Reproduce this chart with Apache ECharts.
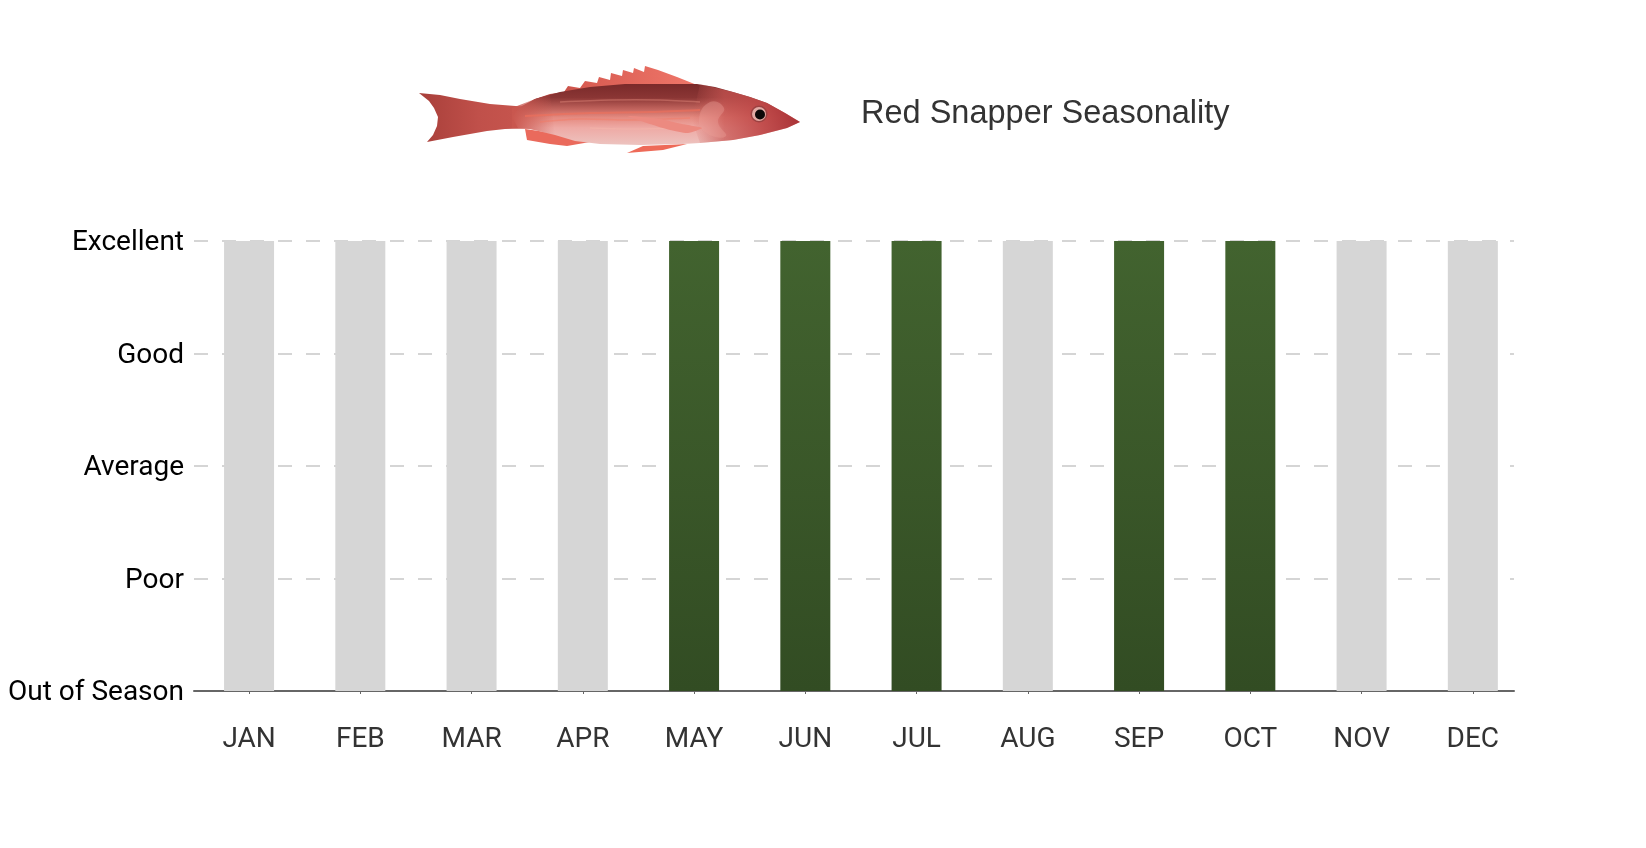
<!DOCTYPE html>
<html>
<head>
    <meta charset="utf-8">
    <title>Red Snapper Seasonality</title>
    <script src="https://cdn.jsdelivr.net/npm/echarts@6/dist/echarts.min.js"></script>
    <style>
        html, body { margin: 0; padding: 0; background: #fff; }
    </style>
</head>
<body>
    <div id="main" style="width: 1646px;height:848px;"></div>
    <script type="text/javascript">
        var months = ['JAN', 'FEB', 'MAR', 'APR', 'MAY', 'JUN', 'JUL', 'AUG', 'SEP', 'OCT', 'NOV', 'DEC'];
        var quality = ['Out of Season', 'Poor', 'Average', 'Good', 'Excellent'];
        var grayValues = [4, 4, 4, 4, 0, 0, 0, 4, 0, 0, 4, 4];
        var greenValues = [0, 0, 0, 0, 4, 4, 4, 0, 4, 4, 0, 0];

        var monthTicks = months.map(function (m, i) { return i; });

        function pairs(values) {
            return values.map(function (v, i) { return [i, v]; });
        }

        function vgrad(stops) {
            return new echarts.graphic.LinearGradient(0, 0, 0, 1, stops.map(function (s) {
                return { offset: s[0], color: s[1] };
            }));
        }
        function hgrad(stops) {
            return new echarts.graphic.LinearGradient(0, 0, 1, 0, stops.map(function (s) {
                return { offset: s[0], color: s[1] };
            }));
        }

        // the fish picture, drawn by hand since there is no image file
        function fishShape(points, fill, smooth, blur) {
            return {
                type: 'polygon',
                silent: true,
                shape: { points: points, smooth: smooth || 0 },
                style: { fill: fill, shadowBlur: blur || 0, shadowColor: blur ? fill : 'transparent' }
            };
        }
        function stripe(points, color, w, op) {
            return {
                type: 'polyline',
                silent: true,
                shape: { points: points, smooth: 0.3 },
                style: { stroke: color, lineWidth: w, opacity: op, fill: null }
            };
        }

        var fish = [
            // tail
            fishShape([[419, 93], [440, 95], [460, 99], [490, 104], [528, 107], [538, 128], [505, 129], [487, 131], [453, 137], [427, 142],
                [433, 135], [437, 126], [438, 117], [434, 108], [429, 101]],
                hgrad([[0, '#a83f3a'], [0.5, '#c0504a'], [1, '#c9574f']])),
            // dorsal fin
            fishShape([[523, 106], [535, 99], [550, 94], [564, 92], [568, 86], [580, 88], [585, 81], [597, 83], [599, 77], [610, 80], [611, 73],
                [622, 76], [623, 70], [633, 73], [634, 68], [644, 72], [645, 66], [658, 70], [677, 77], [697, 85], [640, 92], [560, 100]],
                hgrad([[0, '#a83a36'], [0.35, '#d85c52'], [1, '#f0776a']])),
            // anal fin
            fishShape([[525, 129], [527, 140], [550, 144], [567, 146], [590, 142], [560, 134]], '#ea6a5c'),
            // pelvic fin
            fishShape([[627, 153], [643, 146], [687, 144], [663, 150]], '#ee6a58'),
            // body
            fishShape([[520, 107], [535, 99], [560, 92], [590, 87], [625, 84], [665, 84], [697, 84], [715, 87], [733, 92], [750, 97], [767, 103],
                [785, 113], [800, 122], [787, 128], [760, 135], [733, 140], [700, 143], [683, 144], [640, 145], [600, 144], [575, 141], [555, 135],
                [530, 129], [518, 128], [512, 117]],
                vgrad([[0, '#7a2a2a'], [0.22, '#8a3534'], [0.42, '#c4665f'], [0.55, '#e58a80'], [0.72, '#eeaaa5'], [1, '#edc3bf']])),
            // fade of the body into the tail
            fishShape([[512, 108], [535, 99], [550, 95], [555, 135], [530, 129], [512, 128]],
                hgrad([[0, 'rgba(201,87,79,1)'], [1, 'rgba(201,87,79,0)']])),
            // head shading
            fishShape([[700, 84], [733, 92], [750, 97], [767, 103], [785, 113], [800, 122], [787, 128], [760, 135], [733, 140], [700, 143], [692, 120]],
                hgrad([[0, 'rgba(205,95,90,0)'], [0.3, 'rgba(200,85,82,0.7)'], [0.65, 'rgba(190,70,70,0.9)'], [1, 'rgba(165,45,50,0.95)']])),
            // gill plate
            fishShape([[710, 102], [724, 108], [718, 122], [726, 136], [708, 134], [699, 120]], 'rgba(236,160,152,0.35)', 0.5, 3),
            stripe([[525, 116], [590, 113], [650, 112], [700, 110]], '#f0705a', 2, 0.6),
            stripe([[540, 122], [580, 119], [630, 120], [690, 118]], '#f47a63', 1.5, 0.45),
            stripe([[560, 102], [610, 100], [660, 100], [700, 102]], '#e38a7c', 1.5, 0.45),
            stripe([[590, 128], [630, 129], [680, 128]], '#f6b5aa', 1.5, 0.5),
            // pectoral fin
            fishShape([[628, 116], [660, 119], [682, 124], [702, 128], [688, 133], [670, 130], [650, 124]], '#ec8a80', 0.2),
            // eye
            { type: 'circle', silent: true, shape: { cx: 759, cy: 114, r: 8.5 }, style: { fill: '#9c4242' } },
            { type: 'circle', silent: true, shape: { cx: 759, cy: 114, r: 7 }, style: { fill: '#e3aaa4' } },
            { type: 'circle', silent: true, shape: { cx: 760, cy: 114.5, r: 5 }, style: { fill: '#0c0808' } }
        ];

        var myChart = echarts.init(document.getElementById('main'));

        var option = {
            animation: false,
            backgroundColor: '#fff',
            title: {
                text: 'Red Snapper Seasonality',
                left: 861,
                top: 98,
                padding: 0,
                textStyle: {
                    fontFamily: '"Liberation Sans", Arial, sans-serif',
                    fontSize: 32.5,
                    fontWeight: 'normal',
                    color: '#333'
                }
            },
            graphic: fish,
            grid: { left: 194, right: 132, top: 241, bottom: 157 },
            xAxis: {
                type: 'value',
                min: -0.495,
                max: 11.37,
                splitLine: { show: false },
                axisLine: { show: true, lineStyle: { color: '#666', width: 2 } },
                axisTick: { show: true, length: 3, customValues: monthTicks, lineStyle: { color: '#666', width: 1 } },
                axisLabel: {
                    customValues: monthTicks,
                    margin: 35,
                    fontFamily: 'Roboto',
                    fontSize: 28,
                    color: '#333',
                    formatter: function (v) { return months[v]; }
                }
            },
            yAxis: {
                type: 'value',
                min: 0,
                max: 4,
                interval: 1,
                axisLine: { show: false },
                axisTick: { show: false },
                splitLine: { show: true, lineStyle: { color: '#c8c8c8', width: 1.5, type: [14, 14] } },
                axisLabel: {
                    margin: 10,
                    verticalAlign: 'top',
                    lineHeight: 4,
                    fontFamily: 'Roboto',
                    fontSize: 28,
                    color: '#000',
                    formatter: function (v) { return quality[v]; }
                }
            },
            series: [{
                name: 'Off season',
                type: 'bar',
                barWidth: 50,
                stack: 'season',
                itemStyle: { color: '#d6d6d6' },
                data: pairs(grayValues)
            }, {
                name: 'In season',
                type: 'bar',
                barWidth: 50,
                stack: 'season',
                itemStyle: {
                    color: new echarts.graphic.LinearGradient(0, 0, 0, 1, [
                        { offset: 0, color: '#42632f' },
                        { offset: 1, color: '#324c23' }
                    ])
                },
                data: pairs(greenValues)
            }]
        };

        myChart.setOption(option);
    </script>
</body>
</html>
